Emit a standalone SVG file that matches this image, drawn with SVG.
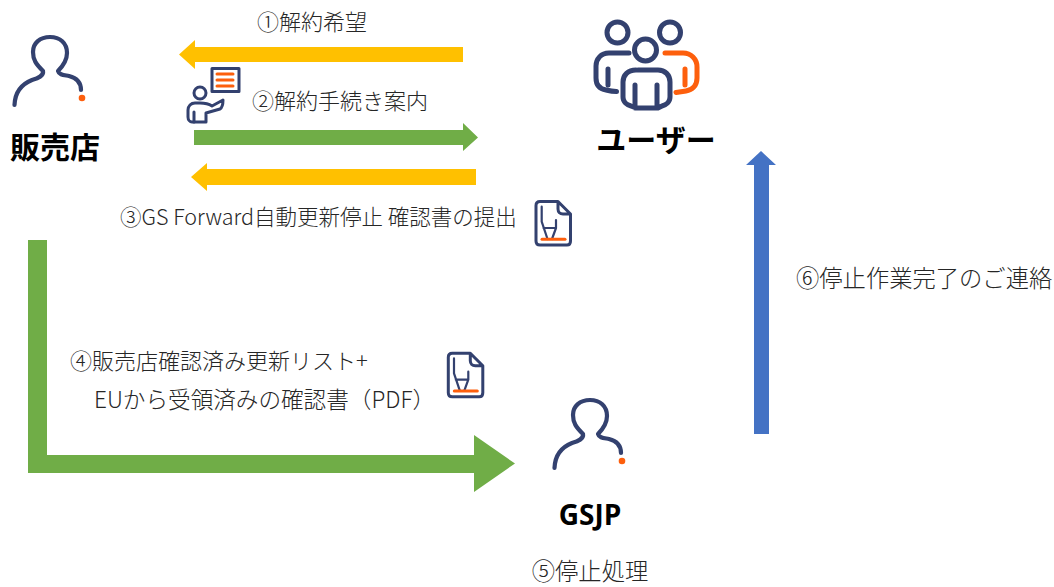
<svg xmlns="http://www.w3.org/2000/svg" width="1054" height="587" viewBox="0 0 1054 587">
<style>
text{font-family:"Noto Sans CJK JP","Noto Sans",sans-serif;fill:#262626;font-size:22px;font-weight:300}
.b{font-weight:700;fill:#000;font-size:30px}
.l{font-size:23.300px}
.n{fill:none;stroke:#33416f;stroke-width:3;stroke-linecap:round;stroke-linejoin:round}
.o{fill:none;stroke:#fd5f0d;stroke-width:3;stroke-linecap:round;stroke-linejoin:round}
.t{stroke-width:4.200px}.w{stroke-width:5px}.p{stroke-width:2.200px}
.y{fill:#ffc000}.g{fill:#70ad47}.u{fill:#4472c4}
</style>
<defs>
<g id="person"><path class="n t" d="M14.500,105C15,92 22,84 32,80C38,78 44,76 43,71C36,64 33,60 33,52C33,43 40,37 50,37C60,37 67,43 67,53C67,60 63,66 58,71C59,75 64,75 69,76C77,78 81,83 81,90"/><circle cx="82" cy="98" r="3.300" fill="#fd5f0d"/></g>
<g id="doc"><path class="n" d="M540,201.500H558L570.500,214V241C570.500,243.500 569,245 567,245H540C537.500,245 536,243.500 536,241V205.500C536,203 537.500,201.500 540,201.500ZM558,201.500V209C558,212 560,214 563,214H570.500"/><path class="n p" d="M541.700,206.700V221.700L547.500,239M556,220V228L552,239M543.500,228H556"/><path class="o" d="M542,239.300H565"/></g>
</defs>
<g id="connectors">
<path class="y" d="M463,47V62H195V69L179,54.500L195,40V47Z"/>
<path class="g" d="M194,130V145H463V151L478,137.500L463,123V130Z"/>
<path class="y" d="M476,169V185H207V191L191,177L207,163V169Z"/>
<path class="g" d="M28,240H47V455H474V435L515,463.500L474,492V473H28Z"/>
<path class="u" d="M754,434H769V165H776L761,151L746,165H754Z"/>
</g>
<g id="hanbaiten"><use href="#person"/><text class="b" x="55" y="158" text-anchor="middle">販売店</text></g>
<g id="user">
<circle class="n w" cx="617.500" cy="32.500" r="10.500"/><circle class="n w" cx="670" cy="32.500" r="10.500"/><circle class="n w" cx="645.500" cy="50" r="11"/>
<path class="n w" d="M629,53H609C601,53 596,59 596,66V78C596,85 600,89 606,90C610,91 613,91.500 616.500,91.500M608,69V85M638,70H658C665,70 670,75 670,82V97C670,102 666,105 662,106L658,108H636L631,106C627,105 623,102 623,97V82C623,75 628,70 636,70M635,85V108M657,85V108"/>
<path class="o w" d="M665,53H683C691,53 697,59 697,67V78C697,86 692,90 686,91L676,92.500M685,69V85"/>
<text class="b" x="656" y="151" text-anchor="middle">ユーザー</text></g>
<g id="gsjp"><use href="#person" x="540" y="363"/><text class="b" x="590" y="525" text-anchor="middle" style="font-family:'Open Sans','Noto Sans',sans-serif;font-size:28px">GSJP</text><text class="l" x="590" y="580" text-anchor="middle">⑤停止処理</text></g>
<g id="presenter">
<rect class="n" x="212" y="68.500" width="27" height="23"/><path class="o" d="M217,74H233M217,80H233M217,86H233"/>
<circle class="n" cx="200" cy="93" r="6"/>
<path class="n" d="M223,100L212,106C209,104 206,103 200,103H195C191,103 188,106 188,110V117C188,120 190,122 192,122H206V113L220,109C223,107 223,103 223,100Z"/>
<path class="n" d="M194,112V122"/></g>
<g id="doc1"><use href="#doc"/></g>
<g id="doc2"><use href="#doc" x="-87.700" y="151.700"/></g>
<g id="labels">
<text x="257" y="30">①解約希望</text>
<text x="252" y="109">②解約手続き案内</text>
<text x="120" y="225" style="font-size:21.500px">③GS Forward自動更新停止 確認書の提出</text>
<text x="70" y="369">④販売店確認済み更新リスト+</text>
<text x="94" y="408" style="font-size:22.600px">EUから受領済みの確認書（PDF）</text>
<text class="l" x="796" y="287">⑥停止作業完了のご連絡</text>
</g>
</svg>
